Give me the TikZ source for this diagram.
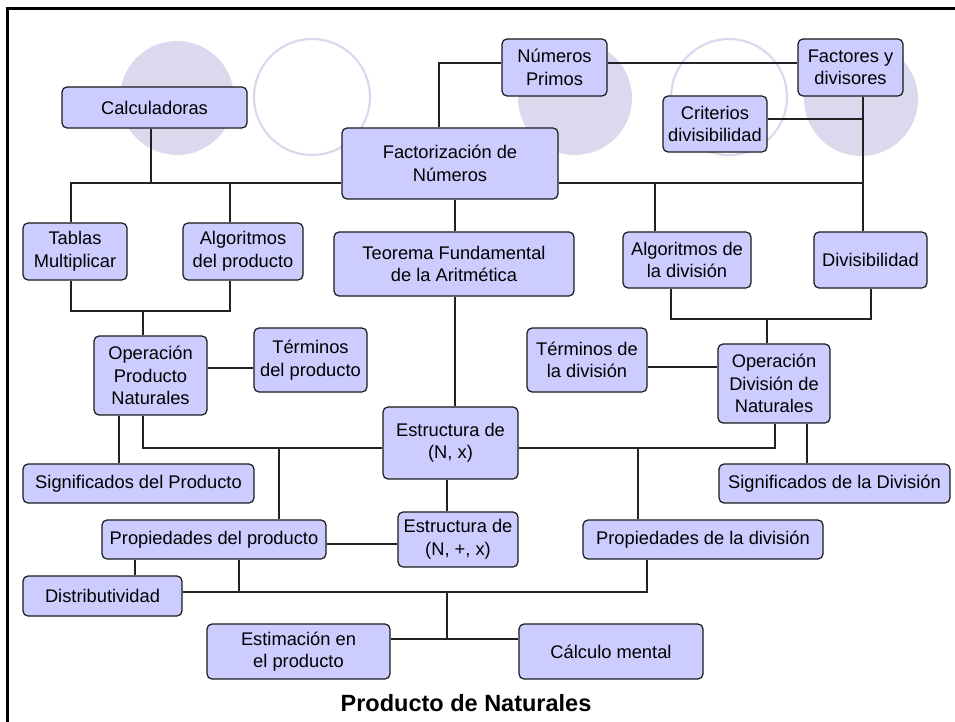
\documentclass[tikz,border=0pt]{standalone}
\usepackage{fontspec}
\setmainfont{Liberation Sans}
\definecolor{boxfill}{RGB}{204,204,255}
\definecolor{deco}{RGB}{218,217,237}
\definecolor{linec}{RGB}{34,34,34}
\begin{document}
\begin{tikzpicture}[x=1pt,y=-1pt,
  box/.style={draw=black!90,fill=boxfill,rounded corners=5pt,line width=1.2pt,
    align=center,inner sep=2pt,font=\fontsize{18.3}{22.5}\selectfont},
  conn/.style={draw=linec,line width=1.4pt},
  decofill/.style={fill=deco,draw=none},
  decoring/.style={draw=deco,line width=2.2pt}]
\useasboundingbox (0,0) rectangle (955,722);
% background decorations
\fill[decofill] (177,98) circle[radius=57];
\draw[decoring] (312,97) circle[radius=58];
\fill[decofill] (575,98) circle[radius=57];
\draw[decoring] (729,97) circle[radius=58];
\fill[decofill] (861,99) circle[radius=57];
% frame
\draw[line width=3pt] (7.5,722) -- (7.5,8.5) -- (955,8.5);
% nodes
\node[box,minimum width=185pt,minimum height=41pt] (calc) at (154.5,107.5) {Calculadoras};
\node[box,minimum width=216pt,minimum height=71pt] (fact) at (450,163.5) {Factorización de\\Números};
\node[box,minimum width=105pt,minimum height=57pt] (primos) at (554.5,67.5) {Números\\Primos};
\node[box,minimum width=105pt,minimum height=57pt] (factores) at (850.5,67.5) {Factores y\\divisores};
\node[box,minimum width=104pt,minimum height=56pt] (criterios) at (715,124) {Criterios\\divisibilidad};
\node[box,minimum width=104pt,minimum height=57pt] (tablas) at (75,251.5) {Tablas\\Multiplicar};
\node[box,minimum width=120pt,minimum height=57pt] (algprod) at (243,251.5) {Algoritmos\\del producto};
\node[box,minimum width=240pt,minimum height=64pt] (teorema) at (454,264) {Teorema Fundamental\\de la Aritmética};
\node[box,minimum width=128pt,minimum height=56pt] (algdiv) at (687,260) {Algoritmos de\\la división};
\node[box,minimum width=113pt,minimum height=56pt] (divis) at (870.5,260) {Divisibilidad};
\node[box,minimum width=113pt,minimum height=79pt] (opprod) at (150.5,375.5) {Operación\\Producto\\Naturales};
\node[box,minimum width=113pt,minimum height=64pt] (termprod) at (310.5,360) {Términos\\del producto};
\node[box,minimum width=120pt,minimum height=64pt] (termdiv) at (587,360) {Términos de\\la división};
\node[box,minimum width=112pt,minimum height=79pt] (opdiv) at (774,383.5) {Operación\\División de\\Naturales};
\node[box,minimum width=135pt,minimum height=72pt] (estrx) at (450.5,443) {Estructura de\\(N, x)};
\node[box,minimum width=231pt,minimum height=39pt] (sigprod) at (138.5,483.5) {Significados del Producto};
\node[box,minimum width=231pt,minimum height=39pt] (sigdiv) at (834.5,483.5) {Significados de la División};
\node[box,minimum width=224pt,minimum height=39pt] (propprod) at (214,539.5) {Propiedades del producto};
\node[box,minimum width=120pt,minimum height=55pt] (estrplus) at (458,539.5) {Estructura de\\(N, +, x)};
\node[box,minimum width=240pt,minimum height=39pt] (propdiv) at (703,539.5) {Propiedades de la división};
\node[box,minimum width=159pt,minimum height=40pt] (distrib) at (102.5,596) {Distributividad};
\node[box,minimum width=183pt,minimum height=55pt] (estim) at (298.5,651.5) {Estimación en\\el producto};
\node[box,minimum width=184pt,minimum height=55pt] (calcm) at (611,651.5) {Cálculo mental};
\node[font=\bfseries\fontsize{23.5}{28}\selectfont] (title) at (466,703) {Producto de Naturales};
% junction coordinates
\coordinate (r1) at (151,183);
\coordinate (tA) at (71,183);
\coordinate (aA) at (230,183);
\coordinate (e1) at (439,63);
\coordinate (v1) at (863,119);
\coordinate (v2) at (863,183);
\coordinate (j2) at (655,183);
\coordinate (k) at (455,0);
\coordinate (l1) at (71,311);
\coordinate (l2) at (230,311);
\coordinate (m) at (143,311);
\coordinate (n) at (0,368);
\coordinate (p) at (119,0);
\coordinate (q) at (143,448);
\coordinate (rr) at (279,448);
\coordinate (s1) at (671,319);
\coordinate (s2) at (871,319);
\coordinate (t) at (767,319);
\coordinate (u) at (0,367);
\coordinate (vv) at (775,448);
\coordinate (w) at (807,0);
\coordinate (xx) at (638,448);
\coordinate (yy) at (447,0);
\coordinate (z) at (0,544);
\coordinate (aa) at (135,0);
\coordinate (ab) at (239,592);
\coordinate (ac) at (647,592);
\coordinate (ad1) at (447,592);
\coordinate (ad2) at (447,639);
% connectors
\begin{scope}[every path/.style={conn}]
\draw (calc.south -| r1) -- (r1);
\draw (tablas.north -| tA) |- (fact.west |- tA);
\draw (algprod.north -| aA) -- (aA);
\draw (fact.north -| e1) |- (primos.west |- e1);
\draw (primos.east |- e1) -- (factores.west |- e1);
\draw (factores.south -| v1) -- (divis.north -| v1);
\draw (criterios.east |- v1) -- (v1);
\draw (fact.east |- v2) -- (v2);
\draw (j2) -- (algdiv.north -| j2);
\draw (fact.south -| k) -- (teorema.north -| k);
\draw (tablas.south -| l1) -- (l1) -- (l2) -- (algprod.south -| l2);
\draw (m) -- (opprod.north -| m);
\draw (opprod.east |- n) -- (termprod.west |- n);
\draw (teorema.south -| k) -- (estrx.north -| k);
\draw (opprod.south -| p) -- (sigprod.north -| p);
\draw (opprod.south -| q) -- (q) -- (estrx.west |- q);
\draw (rr) -- (propprod.north -| rr);
\draw (algdiv.south -| s1) -- (s1) -- (s2) -- (divis.south -| s2);
\draw (t) -- (opdiv.north -| t);
\draw (termdiv.east |- u) -- (opdiv.west |- u);
\draw (opdiv.south -| vv) -- (vv) -- (estrx.east |- vv);
\draw (opdiv.south -| w) -- (sigdiv.north -| w);
\draw (xx) -- (propdiv.north -| xx);
\draw (estrx.south -| yy) -- (estrplus.north -| yy);
\draw (propprod.east |- z) -- (estrplus.west |- z);
\draw (propprod.south -| aa) -- (distrib.north -| aa);
\draw (propprod.south -| ab) -- (ab);
\draw (distrib.east |- ac) -- (ac) -- (propdiv.south -| ac);
\draw (ad1) -- (ad2);
\draw (estim.east |- ad2) -- (calcm.west |- ad2);
\end{scope}
\end{tikzpicture}
\end{document}
